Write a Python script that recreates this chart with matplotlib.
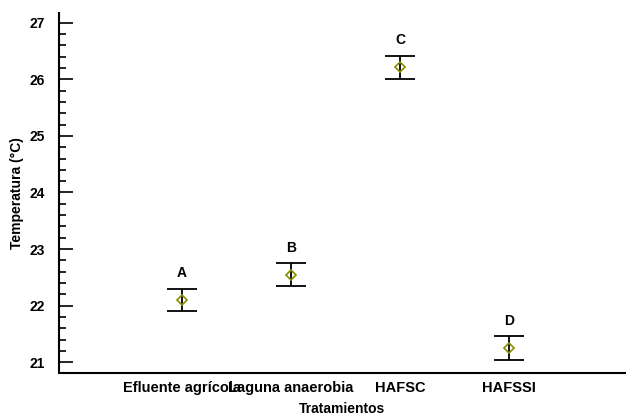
import matplotlib.pyplot as plt
from matplotlib.ticker import MultipleLocator

plt.rcParams['font.family'] = ['Liberation Sans', 'DejaVu Sans']
plt.rcParams['font.weight'] = 'bold'

tratamientos = ["Efluente agrícola", "Laguna anaerobia", "HAFSC", "HAFSSI"]
medias = [22.10, 22.55, 26.21, 21.25]
errores = [0.20, 0.20, 0.21, 0.21]
grupos = ["A", "B", "C", "D"]

fig = plt.figure(figsize=(6.26, 4.2), dpi=100)
ax = fig.add_axes([0.094, 0.112, 0.906, 0.858])

x = list(range(1, len(tratamientos) + 1))
ax.errorbar(x, medias, yerr=errores, fmt='none', ecolor='black',
            elinewidth=1.3, capsize=10.5, capthick=1.3)
ax.plot(x, medias, linestyle='none', marker='D', markersize=5.5,
        markerfacecolor='none', markeredgecolor='#8a8a00', markeredgewidth=1.2)

for xi, m, e, g in zip(x, medias, errores, grupos):
    ax.annotate(g, (xi, m + e), xytext=(0, 6), textcoords='offset points',
                ha='center', va='bottom', fontsize=10, fontweight='bold')

ax.set_xlim(-0.13, 5.07)
ax.set_ylim(20.81, 27.18)
ax.set_xticks(x)
ax.set_xticklabels(tratamientos, fontsize=10.5, fontweight='bold')
ax.tick_params(axis='x', length=0, pad=6)
ax.yaxis.set_major_locator(MultipleLocator(1))
ax.yaxis.set_minor_locator(MultipleLocator(0.2))
ax.tick_params(axis='y', which='major', direction='in', length=10, width=1.2,
               labelsize=10, pad=10)
ax.tick_params(axis='y', which='minor', direction='in', length=5, width=1.2)
for lbl in ax.get_yticklabels():
    lbl.set_fontweight('bold')

for side in ['top', 'right']:
    ax.spines[side].set_visible(False)
for side in ['left', 'bottom']:
    ax.spines[side].set_linewidth(1.5)

ax.set_ylabel("Temperatura (°C)", fontsize=10, fontweight='bold', labelpad=4)
ax.set_xlabel("Tratamientos", fontsize=10, fontweight='bold', labelpad=5)

fig.savefig("out.png", dpi=100)
